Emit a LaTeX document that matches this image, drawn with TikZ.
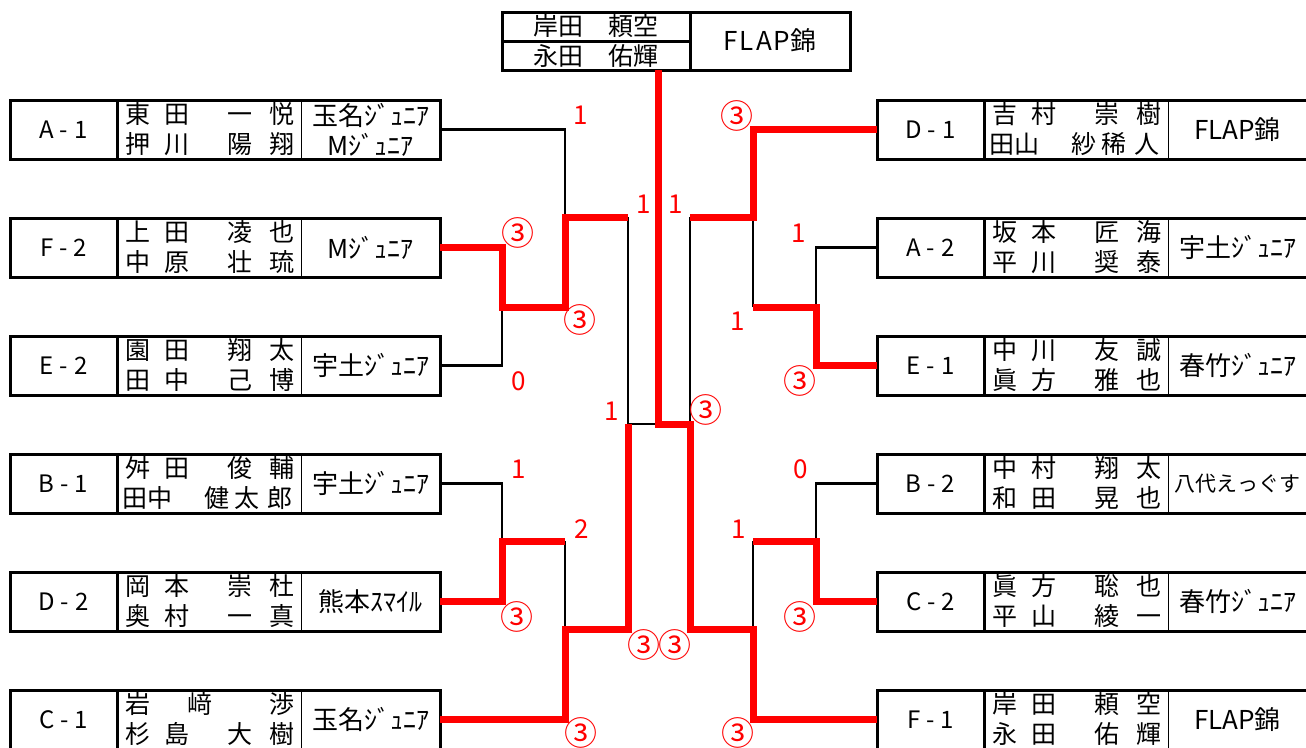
\documentclass[tikz,border=0pt]{standalone}
\usepackage{fontspec}
\setmainfont{Noto Sans CJK JP}
\usetikzlibrary{positioning}
\definecolor{winred}{RGB}{255,0,0}
\newcommand{\namefont}{\fontsize{25}{30}\selectfont}
\newcommand{\teamfont}{\fontsize{26}{30}\selectfont}
\newcommand{\labfont}{\fontsize{24}{28}\selectfont}
\newcommand{\scorefont}{\fontsize{26}{28}\selectfont}
% name rows: 2+2, 2+3 and 1+1+1 layouts
\newcommand{\nmA}[4]{\hspace*{8.5pt}#1\hspace{14pt}#2\hspace{38pt}#3\hspace{17pt}#4}
\newcommand{\nmB}[5]{\hspace*{5.5pt}#1#2\hspace{32pt}#3\hspace{5pt}#4\hspace{8pt}#5}
\newcommand{\nmC}[3]{\hspace*{8.5pt}#1\hspace{37pt}#2\hspace{57pt}#3}
\newcommand{\lab}[2]{#1\hspace{6pt}-\hspace{6pt}#2}
\tikzset{
  labcell/.style={minimum width=107pt, minimum height=59pt, inner sep=0pt, outer sep=0pt, anchor=west, font=\labfont},
  namecell/.style={minimum width=184pt, minimum height=59pt, inner sep=0pt, outer sep=0pt},
  teamcell/.style={minimum width=139pt, minimum height=59pt, inner sep=0pt, outer sep=0pt, align=center, font=\teamfont},
  namerow/.style={anchor=west, inner sep=0pt, outer sep=0pt, font=\namefont, text height=21.5pt, text depth=3pt},
  boxline/.style={line width=3pt},
  lose/.style={line width=2.5pt},
  win/.style={line width=7pt, winred},
  score/.style={font=\scorefont, text=winred, inner sep=0pt},
  circ/.style={score, font=\fontsize{33}{34}\selectfont},
  topcell/.style={draw, line width=3pt, inner sep=0pt, outer sep=0pt},
}
% one entry: id, x, y, label, row 1, row 2, team
\newcommand{\entrybox}[7]{%
  \node[labcell] (#1) at (#2,#3) {#4};
  \node[namecell, right=0pt of #1] (#1n) {};
  \node[teamcell, right=0pt of #1n] (#1t) {#7};
  \node[namerow] (#1a) at ([yshift=15pt]#1n.west) {#5};
  \node[namerow] (#1b) at ([yshift=-15pt]#1n.west) {#6};
  \draw[boxline] (#1.north west) rectangle (#1t.south east);
  \draw[boxline] (#1.north east) -- (#1.south east);
  \draw[line width=1pt] (#1n.north east) -- (#1n.south east);
}
\begin{document}
\begin{tikzpicture}[x=1pt, y=-1pt]
\useasboundingbox (0,0) rectangle (1306,747);

% champion
\node[topcell, minimum width=188pt, minimum height=29pt, anchor=north west, font=\namefont] (ch1) at (502,12) {岸田　頼空};
\node[topcell, minimum width=188pt, minimum height=29pt, below=0pt of ch1, font=\namefont] (ch2) {永田　佑輝};
\node[topcell, minimum width=160pt, minimum height=58pt, anchor=north west, font=\teamfont] (cht) at (ch1.north east) {F\kern2pt L\kern2pt A\kern2pt P錦};

% left half
\entrybox{a1}{10}{129.5}{\lab{A}{1}}{\nmA{東}{田}{一}{悦}}{\nmA{押}{川}{陽}{翔}}{玉名ｼﾞｭﾆｱ\\Mｼﾞｭﾆｱ}
\entrybox{f2}{10}{247.5}{\lab{F}{2}}{\nmA{上}{田}{凌}{也}}{\nmA{中}{原}{壮}{琉}}{Mｼﾞｭﾆｱ}
\entrybox{e2}{10}{365.5}{\lab{E}{2}}{\nmA{園}{田}{翔}{太}}{\nmA{田}{中}{己}{博}}{宇土ｼﾞｭﾆｱ}
\entrybox{b1}{10}{483.5}{\lab{B}{1}}{\nmA{舛}{田}{俊}{輔}}{\nmB{田}{中}{健}{太}{郎}}{宇土ｼﾞｭﾆｱ}
\entrybox{d2}{10}{601.5}{\lab{D}{2}}{\nmA{岡}{本}{崇}{杜}}{\nmA{奥}{村}{一}{真}}{熊本ｽﾏｲﾙ}
\entrybox{c1}{10}{719.5}{\lab{C}{1}}{\nmC{岩}{﨑}{渉}}{\nmA{杉}{島}{大}{樹}}{玉名ｼﾞｭﾆｱ}

% right half
\entrybox{d1}{877}{129.5}{\lab{D}{1}}{\nmA{吉}{村}{崇}{樹}}{\nmB{田}{山}{紗}{稀}{人}}{FLAP錦}
\entrybox{a2}{877}{247.5}{\lab{A}{2}}{\nmA{坂}{本}{匠}{海}}{\nmA{平}{川}{奨}{泰}}{宇土ｼﾞｭﾆｱ}
\entrybox{e1}{877}{365.5}{\lab{E}{1}}{\nmA{中}{川}{友}{誠}}{\nmA{眞}{方}{雅}{也}}{春竹ｼﾞｭﾆｱ}
\entrybox{b2}{877}{483.5}{\lab{B}{2}}{\nmA{中}{村}{翔}{太}}{\nmA{和}{田}{晃}{也}}{{\fontsize{21}{24}\selectfont 八代えっぐす}}
\entrybox{c2}{877}{601.5}{\lab{C}{2}}{\nmA{眞}{方}{聡}{也}}{\nmA{平}{山}{綾}{一}}{春竹ｼﾞｭﾆｱ}
\entrybox{f1}{877}{719.5}{\lab{F}{1}}{\nmA{岸}{田}{頼}{空}}{\nmA{永}{田}{佑}{輝}}{FLAP錦}

% bracket points
\coordinate (m1) at (502,307);
\coordinate (m2) at (565,217);
\coordinate (m3) at (502,541);
\coordinate (m4) at (565,629);
\coordinate (m5) at (628,424);
\coordinate (n1) at (816,307);
\coordinate (n2) at (753,217);
\coordinate (n3) at (816,541);
\coordinate (n4) at (753,629);
\coordinate (n5) at (690,424);
\coordinate (fin) at (658,424);

% losers
\draw[lose] (a1t.east) -| (m2);
\draw[lose] (e2t.east) -| (m1);
\draw[lose] (b1t.east) -| (m3);
\draw[lose] (m3 -| m4) -- (m4);
\draw[lose] (m2 -| m5) -- (m5) -- (fin);
\draw[lose] (a2.west) -| (n1);
\draw[lose] (n1 -| n2) -- (n2);
\draw[lose] (b2.west) -| (n3);
\draw[lose] (n3 -| n4) -- (n4);
\draw[lose] (n2 -| n5) -- (n5);

% winners
\draw[win] (f2t.east) -| (m1) -| (m2) -- (m2 -| m5);
\draw[win] (d2t.east) -| (m3) -- (m3 -| m4);
\draw[win] (c1t.east) -| (m4) -| (m5);
\draw[win] (d1.west) -| (n2) -- (n2 -| n5);
\draw[win] (e1.west) -| (n1) -- (n1 -| n2);
\draw[win] (c2.west) -| (n3) -- (n3 -| n4);
\draw[win] (f1.west) -| (n4) -| (n5) -- (fin) -- (fin |- ch2.south);

% scores
\node[score] (s1) at (581,115) {1};
\node[circ] (s2) at (518,233) {③};
\node[circ] (s3) at (580,320) {③};
\node[score] (s4) at (519,381) {0};
\node[score] (s5) at (644,204) {1};
\node[score] (s6) at (612,411) {1};
\node[score] (s7) at (519,469) {1};
\node[score] (s8) at (582,529) {2};
\node[circ] (s9) at (517,617) {③};
\node[circ] (s10) at (644,645) {③};
\node[circ] (s11) at (581,733) {③};
\node[circ] (s12) at (737,116) {③};
\node[score] (s13) at (676,204) {1};
\node[score] (s14) at (799,233) {1};
\node[score] (s15) at (738,321) {1};
\node[circ] (s16) at (800,381) {③};
\node[circ] (s17) at (706,410) {③};
\node[score] (s18) at (801,469) {0};
\node[score] (s19) at (739,529) {1};
\node[circ] (s20) at (800,617) {③};
\node[circ] (s21) at (675,645) {③};
\node[circ] (s22) at (738,733) {③};
\end{tikzpicture}
\end{document}
